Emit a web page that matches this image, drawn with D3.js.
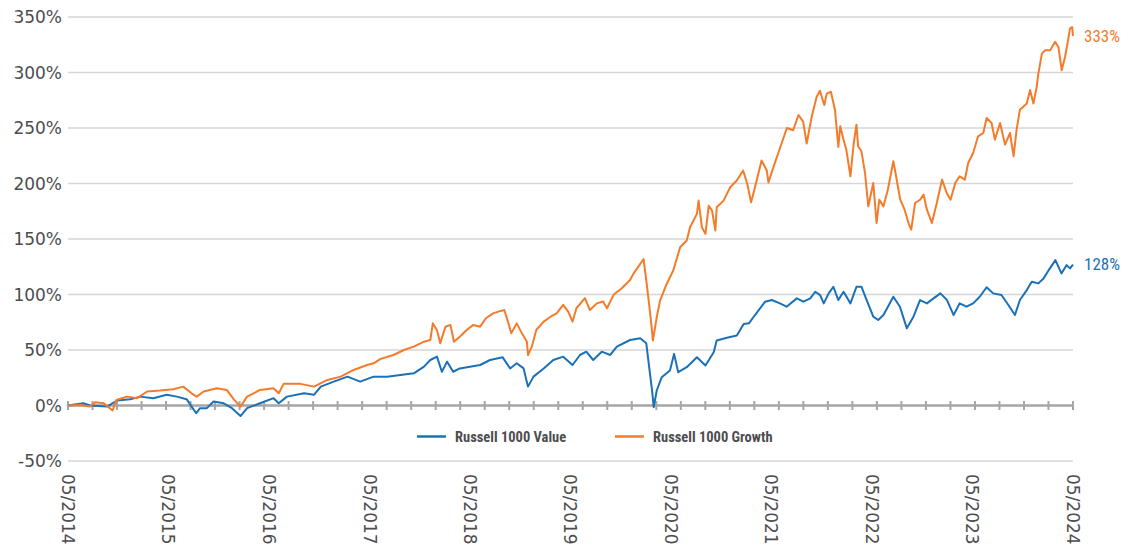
<!DOCTYPE html>
<html>
<head>
<meta charset="utf-8">
<script src="https://cdn.jsdelivr.net/npm/d3@7"></script>
<style>
  html, body { margin: 0; padding: 0; background: #fff; }
  svg { display: block; }
</style>
</head>
<body>
<div id="chart"></div>
<script>
// cumulative return, %
var valueDates = [
  "2014-05-01","2014-06-26","2014-07-20","2014-09-20","2014-10-26","2014-12-13","2015-01-19","2015-03-07",
  "2015-04-25","2015-06-01","2015-07-06","2015-08-10","2015-08-24","2015-09-18","2015-10-12","2015-11-18",
  "2015-12-18","2016-01-18","2016-02-11","2016-03-29","2016-05-17","2016-06-05","2016-07-05","2016-09-05",
  "2016-10-11","2016-11-05","2016-12-22","2017-02-10","2017-03-28","2017-05-16","2017-07-04","2017-08-21",
  "2017-10-09","2017-11-15","2017-12-08","2018-01-01","2018-01-19","2018-02-07","2018-03-01","2018-03-25",
  "2018-05-01","2018-06-07","2018-07-13","2018-08-28","2018-09-24","2018-10-18","2018-11-12","2018-11-28",
  "2018-12-18","2019-01-24","2019-02-28","2019-04-05","2019-05-09","2019-06-05","2019-06-28","2019-07-23",
  "2019-08-23","2019-09-23","2019-10-17","2019-12-04","2020-01-10","2020-02-01","2020-02-10","2020-02-22",
  "2020-02-28","2020-03-10","2020-03-28","2020-04-27","2020-05-12","2020-05-27","2020-06-27","2020-08-03",
  "2020-09-03","2020-10-03","2020-10-14","2020-11-20","2020-12-26","2021-01-20","2021-02-08","2021-03-02",
  "2021-04-08","2021-05-02","2021-06-01","2021-06-25","2021-08-01","2021-08-25","2021-09-19","2021-10-07",
  "2021-10-25","2021-11-07","2021-11-25","2021-12-12","2021-12-30","2022-01-18","2022-02-12","2022-03-06",
  "2022-03-24","2022-04-12","2022-05-06","2022-05-24","2022-06-12","2022-07-18","2022-08-11","2022-09-05",
  "2022-09-29","2022-10-23","2022-11-17","2022-12-11","2023-01-05","2023-01-29","2023-02-22","2023-03-16",
  "2023-04-10","2023-05-04","2023-05-28","2023-06-22","2023-07-16","2023-08-15","2023-09-09","2023-10-03",
  "2023-10-21","2023-11-15","2023-12-03","2023-12-27","2024-01-15","2024-02-03","2024-02-27","2024-03-20",
  "2024-04-08","2024-04-20","2024-05-01"
];
var valueSeries = [
  0, 2, 0, -1, 4.5, 5.7, 8, 6.6,
  9.6, 8, 5.7, -7, -2.4, -2.4, 3.6, 2,
  -2.4, -9.5, -2.4, 2, 6.6, 2, 8, 11,
  9.6, 17, 21.5, 26, 21.5, 26, 26, 27.5,
  29, 35, 41, 44, 30.4, 39.5, 30.4, 33.4,
  35, 36.5, 41, 43.4, 33.4, 38, 33.4, 17,
  26, 33.4, 41, 44, 36.5, 45.5, 48.5, 41,
  48.5, 45.5, 53, 59, 60.5, 56, 37.5, 13.5,
  -1.5, 13.5, 25.5, 31.5, 46.5, 30, 34.5, 43.5,
  36, 48, 58.5, 61, 63, 73.5, 74, 81.5,
  93.5, 95, 92, 89, 96.5, 93.5, 96.5, 102.5,
  99.5, 92, 101, 107, 95, 102.5, 92, 107,
  107, 95, 80, 77, 81.5, 98, 89, 69.5,
  80, 95, 92, 96.5, 101, 95, 81.5, 92,
  89, 92, 98, 106.5, 101, 99.5, 90.5, 81.5,
  95, 104, 111.5, 110, 114.5, 122, 131, 119,
  126.5, 123.5, 127
];

var growthDates = [
  "2014-05-01","2014-06-14","2014-07-20","2014-08-08","2014-09-08","2014-10-10","2014-10-24","2014-12-01",
  "2015-01-07","2015-02-13","2015-04-01","2015-05-19","2015-06-24","2015-07-24","2015-08-12","2015-09-06",
  "2015-10-24","2015-11-29","2015-12-24","2016-01-18","2016-02-11","2016-03-29","2016-05-17","2016-06-05",
  "2016-06-23","2016-08-23","2016-10-11","2016-11-29","2017-01-16","2017-03-04","2017-04-22","2017-05-16",
  "2017-06-10","2017-07-27","2017-09-03","2017-10-09","2017-11-15","2017-12-08","2017-12-17","2018-01-01",
  "2018-01-13","2018-02-01","2018-02-19","2018-03-04","2018-03-25","2018-04-19","2018-05-13","2018-06-07",
  "2018-06-28","2018-07-24","2018-08-12","2018-09-03","2018-09-18","2018-09-28","2018-10-18","2018-11-06",
  "2018-11-24","2018-11-28","2018-12-12","2018-12-28","2019-01-24","2019-02-18","2019-03-12","2019-04-05",
  "2019-04-23","2019-05-09","2019-05-23","2019-06-23","2019-07-11","2019-08-05","2019-08-28","2019-09-11",
  "2019-10-05","2019-11-04","2019-12-04","2019-12-16","2020-01-22","2020-02-04","2020-02-18","2020-02-25",
  "2020-03-10","2020-03-22","2020-04-15","2020-05-09","2020-06-03","2020-06-27","2020-07-09","2020-08-03",
  "2020-08-09","2020-08-21","2020-09-03","2020-09-15","2020-09-27","2020-10-09","2020-10-14","2020-11-08",
  "2020-12-02","2020-12-26","2021-01-18","2021-02-02","2021-02-16","2021-03-02","2021-03-26","2021-04-14",
  "2021-04-20","2021-05-08","2021-06-02","2021-06-26","2021-07-19","2021-08-07","2021-08-24","2021-09-06",
  "2021-09-24","2021-10-12","2021-10-24","2021-11-09","2021-11-18","2021-12-03","2021-12-18","2021-12-30",
  "2022-01-06","2022-01-18","2022-01-28","2022-02-12","2022-02-24","2022-03-06","2022-03-12","2022-03-24",
  "2022-04-06","2022-04-18","2022-05-06","2022-05-18","2022-05-28","2022-06-12","2022-06-28","2022-07-18",
  "2022-07-28","2022-08-12","2022-08-28","2022-09-11","2022-09-21","2022-10-05","2022-10-23","2022-11-05",
  "2022-11-17","2022-12-05","2022-12-23","2023-01-11","2023-01-28","2023-02-11","2023-02-28","2023-03-16",
  "2023-04-04","2023-04-16","2023-05-04","2023-05-22","2023-06-10","2023-06-22","2023-07-10","2023-07-22",
  "2023-08-10","2023-08-28","2023-09-15","2023-09-28","2023-10-09","2023-10-21","2023-11-15","2023-11-27",
  "2023-12-09","2023-12-21","2023-12-27","2024-01-09","2024-01-21","2024-02-08","2024-02-26","2024-03-09",
  "2024-03-21","2024-04-02","2024-04-11","2024-04-20","2024-04-28","2024-05-01"
];
var growthSeries = [
  0, 0.5, -1, 3, 2, -4.5, 5, 8,
  6.6, 12.6, 13.5, 14.7, 17, 11, 8, 12.6,
  15.6, 14, 5.7, -1, 8, 14, 15.6, 11,
  19.5, 19.5, 17, 23, 26, 32, 36.5, 38,
  42, 45.5, 50, 53, 57.5, 59, 74, 68,
  56, 71, 72.6, 57.5, 62, 68, 72.6, 71,
  78.6, 83, 84.6, 86, 74, 65, 74, 65,
  57.5, 45.5, 53, 68, 75.6, 80, 83, 90.7,
  84.6, 75.6, 87.6, 96.7, 86, 92, 93.7, 87.6,
  99.7, 105.7, 113, 118.6, 132, 106.6, 76.6, 58.5,
  79.5, 94.5, 109.5, 121.6, 142.6, 148.6, 160.6, 172.6,
  184.6, 160.6, 154.6, 180, 175.6, 157.6, 178.6, 184.6,
  196.6, 202.7, 211.7, 199.7, 183, 196.6, 220.7, 211.7,
  201, 214.7, 232.7, 250, 248, 261.7, 255.7, 236,
  260, 278, 283.6, 270.7, 281, 282.7, 266, 233,
  251.5, 239.5, 230.5, 206.5, 236.5, 253, 233.5, 229,
  209.5, 179.4, 200.5, 164.4, 185.4, 179.4, 194.4, 220,
  206.5, 185.4, 176.4, 164.4, 158.4, 182.4, 185.4, 190,
  176.4, 164.4, 182.4, 203.5, 191.4, 185.4, 200.5, 206.5,
  203.5, 218.5, 227.5, 242.5, 245.5, 259, 254.5, 239.5,
  254.5, 235, 245.5, 224.5, 248.5, 266.5, 272, 284.2,
  272, 287, 299, 317, 320, 320, 327.6, 323,
  302, 314, 326, 339.6, 341, 333
];

var seriesNames = ["Russell 1000 Value", "Russell 1000 Growth"];
var seriesColors = ["#1b71b8", "#f47b2a"];
var endLabels = ["128%", "333%"];
var endValues = [128, 333];
var yTicks = [-50, 0, 50, 100, 150, 200, 250, 300, 350];
var xLabelYears = [2014, 2015, 2016, 2017, 2018, 2019, 2020, 2021, 2022, 2023, 2024];

var W = 1125, H = 553;
var margin = {top: 17, right: 52, bottom: 92, left: 68};
var parse = d3.timeParse("%Y-%m-%d");
var textGray = "#4d4d4f";

var svg = d3.select("#chart").append("svg")
  .attr("width", W)
  .attr("height", H);

var xStart = new Date(2014, 4, 1), xEnd = new Date(2024, 4, 1);
var x = d3.scaleTime()
  .domain([xStart, xEnd])
  .range([margin.left, W - margin.right]);
var y = d3.scaleLinear()
  .domain([-50, 350])
  .range([H - margin.bottom, margin.top]);

// gridlines
svg.append("g")
  .selectAll("line")
  .data(yTicks.filter(function(d) { return d !== 0; }))
  .enter().append("line")
  .attr("x1", x.range()[0]).attr("x2", x.range()[1])
  .attr("y1", function(d) { return y(d); })
  .attr("y2", function(d) { return y(d); })
  .style("stroke", "#d6d6d6")
  .style("stroke-width", 1.5);

// y labels
svg.append("g")
  .selectAll("text")
  .data(yTicks)
  .enter().append("text")
  .attr("x", margin.left - 6)
  .attr("y", function(d) { return y(d); })
  .attr("dy", "0.36em")
  .attr("text-anchor", "end")
  .style("font-family", "'DejaVu Sans', sans-serif")
  .style("font-size", "17px")
  .style("fill", textGray)
  .text(function(d) { return d + "%"; });

// zero line with minor ticks
var tickDates = d3.range(42).map(function(i) {
  return new Date(+xStart + i * (xEnd - xStart) / 41);
});
var zero = svg.append("g");
zero.append("line")
  .attr("x1", x.range()[0]).attr("x2", x.range()[1])
  .attr("y1", y(0)).attr("y2", y(0))
  .style("stroke", "#a6a6a6")
  .style("stroke-width", 2.5);
zero.selectAll("line.tk")
  .data(tickDates)
  .enter().append("line")
  .attr("class", "tk")
  .attr("x1", function(d) { return x(d); })
  .attr("x2", function(d) { return x(d); })
  .attr("y1", y(0) - 4.5).attr("y2", y(0) + 4.5)
  .style("stroke", "#a6a6a6")
  .style("stroke-width", 2);

// x labels, rotated
svg.append("g")
  .selectAll("text")
  .data(xLabelYears)
  .enter().append("text")
  .attr("transform", function(d) {
    return "translate(" + (x(new Date(d, 4, 1)) - 6) + "," + (H - margin.bottom + 13) + ") rotate(90)";
  })
  .style("font-family", "'DejaVu Sans', sans-serif")
  .style("font-size", "17px")
  .style("fill", textGray)
  .text(function(d) { return "05/" + d; });

// lines
var line = d3.line()
  .x(function(d) { return x(d[0]); })
  .y(function(d) { return y(d[1]); });

var seriesData = [
  valueDates.map(function(d, i) { return [parse(d), valueSeries[i]]; }),
  growthDates.map(function(d, i) { return [parse(d), growthSeries[i]]; })
];

svg.append("g")
  .selectAll("path")
  .data(seriesData)
  .enter().append("path")
  .attr("d", line)
  .style("fill", "none")
  .style("stroke", function(d, i) { return seriesColors[i]; })
  .style("stroke-width", 2)
  .style("stroke-linejoin", "round");

// end labels
var condensed = "'Liberation Sans Narrow', 'Arial Narrow', 'Roboto Condensed', sans-serif";
svg.append("g")
  .selectAll("text")
  .data(endLabels)
  .enter().append("text")
  .attr("x", x.range()[1] + 11)
  .attr("y", function(d, i) { return y(endValues[i]); })
  .attr("dy", "0.36em")
  .style("font-family", condensed)
  .style("font-size", "17px")
  .style("fill", function(d, i) { return seriesColors[i]; })
  .text(function(d) { return d; });

// legend
var legendX = [417, 615];
var legendY = 436.5;
var legend = svg.append("g")
  .selectAll("g")
  .data(seriesNames)
  .enter().append("g")
  .attr("transform", function(d, i) { return "translate(" + legendX[i] + "," + legendY + ")"; });
legend.append("line")
  .attr("x1", 0).attr("x2", 29)
  .style("stroke", function(d, i) { return seriesColors[i]; })
  .style("stroke-width", 2.5);
legend.append("text")
  .attr("x", 38)
  .attr("dy", "0.36em")
  .style("font-family", condensed)
  .style("font-weight", "bold")
  .style("font-size", "14.5px")
  .style("fill", textGray)
  .text(function(d) { return d; });
</script>
</body>
</html>
